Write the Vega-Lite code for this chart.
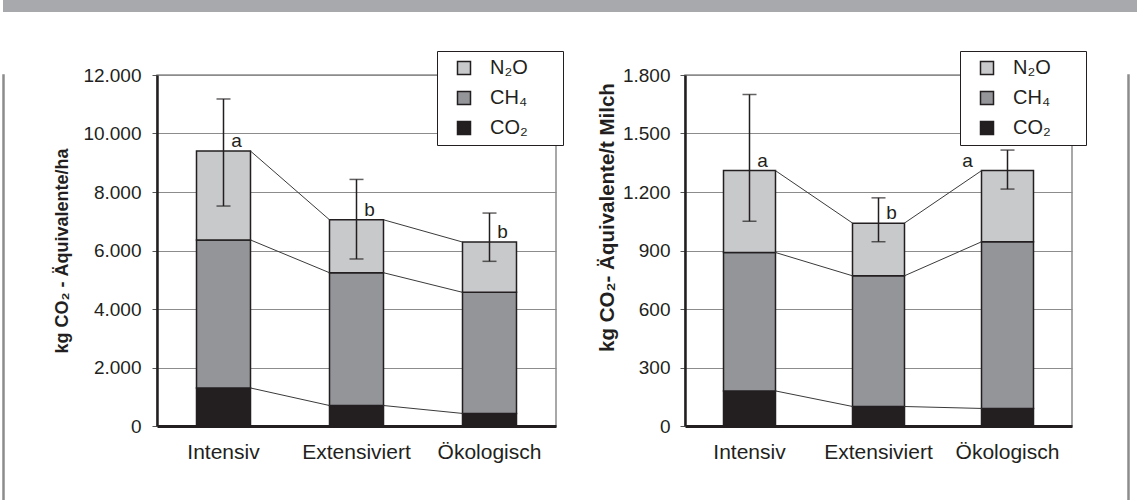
{
  "$schema": "https://vega.github.io/schema/vega-lite/v6.json",
  "padding": 0,
  "background": "white",
  "config": {
    "font": "Liberation Sans",
    "locale": {"number": {"decimal": ",", "thousands": ".", "grouping": [3], "currency": ["", " €"]}},
    "view": {"stroke": "#8c8c8c", "strokeWidth": 1.5},
    "axisY": {"grid": true, "gridColor": "#8c8c8c", "gridWidth": 1, "domainColor": "#231f20", "domainWidth": 2.5, "tickColor": "#555555", "tickSize": 5, "tickWidth": 1, "labelFontSize": 19, "labelColor": "#231f20", "labelPadding": 11, "titleFontSize": 18, "titleFontWeight": "bold", "titleColor": "#231f20", "titlePadding": 11, "format": ",d"},
    "axisX": {"domainColor": "#231f20", "domainWidth": 3, "ticks": false, "tickSize": 0, "labelFontSize": 21, "labelColor": "#231f20", "labelPadding": 15, "labelAngle": 0, "grid": false},
    "legend": {"orient": "none", "title": null, "direction": "vertical", "fillColor": "white", "strokeColor": "#231f20", "strokeWidth": 1, "padding": 7, "symbolType": "square", "symbolSize": 169, "symbolStrokeColor": "#231f20", "symbolStrokeWidth": 1.5, "symbolOffset": 10, "labelOffset": 16, "labelFontSize": 20, "labelColor": "#231f20", "rowPadding": 10}
  },
  "datasets": {
    "perHa": [
      {"system": "Intensiv", "co2": 1300, "ch4": 5060, "n2o": 3040, "low": 7520, "high": 11180, "letter": "a"},
      {"system": "Extensiviert", "co2": 700, "ch4": 4540, "n2o": 1810, "low": 5710, "high": 8430, "letter": "b"},
      {"system": "Ökologisch", "co2": 430, "ch4": 4140, "n2o": 1720, "low": 5630, "high": 7280, "letter": "b"}
    ],
    "perMilk": [
      {"system": "Intensiv", "co2": 180, "ch4": 710, "n2o": 420, "low": 1050, "high": 1700, "letter": "a"},
      {"system": "Extensiviert", "co2": 100, "ch4": 670, "n2o": 270, "low": 945, "high": 1170, "letter": "b"},
      {"system": "Ökologisch", "co2": 90, "ch4": 855, "n2o": 365, "low": 1215, "high": 1415, "letter": "a"}
    ]
  },
  "spacing": 37,
  "vconcat": [
    {
      "width": 1137,
      "height": 12,
      "view": {"fill": "#a7a9ac", "stroke": null},
      "data": {"values": [{"x": 0}]},
      "mark": {"type": "point", "opacity": 0},
      "encoding": {}
    },
    {
      "spacing": 31,
      "resolve": {"scale": {"color": "independent", "y": "independent", "x": "independent"}, "legend": {"color": "independent"}},
      "hconcat": [
        {
          "spacing": 46,
          "resolve": {"scale": {"color": "independent", "y": "independent", "x": "independent"}, "legend": {"color": "independent"}},
          "hconcat": [
            {
              "width": 1,
              "height": 425,
              "view": {"fill": "#8c8c8c", "stroke": "#8c8c8c", "strokeWidth": 1.5},
              "data": {"values": [{"x": 0}]},
              "mark": {"type": "point", "opacity": 0},
              "encoding": {}
            },
            {
              "width": 399,
              "height": 351,
              "data": {"name": "perHa"},
              "transform": [
                {"calculate": "indexof(['Intensiv','Extensiviert','Ökologisch'], datum.system)", "as": "sysOrd"},
                {"fold": ["co2", "ch4", "n2o"], "as": ["gas", "value"]},
                {"calculate": "indexof(['co2','ch4','n2o'], datum.gas)", "as": "gasOrd"},
                {"stack": "value", "groupby": ["system"], "sort": [{"field": "gasOrd", "order": "ascending"}], "as": ["v0", "v1"]}
              ],
              "encoding": {
                "x": {"field": "system", "type": "nominal", "sort": ["Intensiv", "Extensiviert", "Ökologisch"], "scale": {"paddingInner": 0, "paddingOuter": 0}, "axis": {"title": null}}
              },
              "layer": [
                {
                  "mark": {"type": "bar", "width": {"band": 0.406}, "stroke": "#231f20", "strokeWidth": 1.5},
                  "encoding": {
                    "y": {"field": "v0", "type": "quantitative", "scale": {"domain": [0, 12000]}, "axis": {"title": "kg CO₂ - Äquivalente/ha", "values": [0, 2000, 4000, 6000, 8000, 10000, 12000]}},
                    "y2": {"field": "v1"},
                    "color": {"field": "gas", "type": "nominal", "scale": {"domain": ["n2o", "ch4", "co2"], "range": ["#c8c9cb", "#939598", "#231f20"]},
                      "legend": {"legendX": 280, "legendY": -24, "labelExpr": "datum.label == 'n2o' ? 'N₂O\u00a0\u00a0\u00a0\u00a0\u00a0\u200b' : datum.label == 'ch4' ? 'CH₄\u00a0\u00a0\u00a0\u00a0\u00a0\u200b' : 'CO₂\u00a0\u00a0\u00a0\u00a0\u00a0\u200b'"}}
                  }
                },
                {
                  "transform": [
                    {"window": [{"op": "lead", "field": "v1", "as": "nextTop"}, {"op": "lead", "field": "system", "as": "nextSystem"}], "groupby": ["gas"], "sort": [{"field": "sysOrd", "order": "ascending"}]},
                    {"filter": "datum.nextSystem != null"}
                  ],
                  "mark": {"type": "rule", "stroke": "#3a3a3a", "strokeWidth": 1},
                  "encoding": {
                    "x": {"field": "system", "type": "nominal", "sort": ["Intensiv", "Extensiviert", "Ökologisch"], "bandPosition": 0.703},
                    "x2": {"field": "nextSystem", "bandPosition": 0.297},
                    "y": {"field": "v1", "type": "quantitative"},
                    "y2": {"field": "nextTop"}
                  }
                },
                {
                  "transform": [{"filter": "datum.gas == 'n2o'"}],
                  "mark": {"type": "rule", "stroke": "#231f20", "strokeWidth": 1.5},
                  "encoding": {"y": {"field": "low", "type": "quantitative"}, "y2": {"field": "high"}}
                },
                {
                  "transform": [{"filter": "datum.gas == 'n2o'"}],
                  "mark": {"type": "tick", "size": 14, "thickness": 1.5, "color": "#231f20", "orient": "horizontal"},
                  "encoding": {"y": {"field": "low", "type": "quantitative"}}
                },
                {
                  "transform": [{"filter": "datum.gas == 'n2o'"}],
                  "mark": {"type": "tick", "size": 14, "thickness": 1.5, "color": "#231f20", "orient": "horizontal"},
                  "encoding": {"y": {"field": "high", "type": "quantitative"}}
                },
                {
                  "transform": [{"filter": "datum.gas == 'n2o'"}],
                  "mark": {"type": "text", "dx": 13, "dy": -10, "fontSize": 19, "color": "#231f20"},
                  "encoding": {"y": {"field": "v1", "type": "quantitative"}, "text": {"field": "letter"}}
                }
              ]
            }
          ]
        },
        {
          "spacing": 37,
          "resolve": {"scale": {"color": "independent", "y": "independent", "x": "independent"}, "legend": {"color": "independent"}},
          "hconcat": [
            {
              "width": 387,
              "height": 351,
              "data": {"name": "perMilk"},
              "transform": [
                {"calculate": "indexof(['Intensiv','Extensiviert','Ökologisch'], datum.system)", "as": "sysOrd"},
                {"fold": ["co2", "ch4", "n2o"], "as": ["gas", "value"]},
                {"calculate": "indexof(['co2','ch4','n2o'], datum.gas)", "as": "gasOrd"},
                {"stack": "value", "groupby": ["system"], "sort": [{"field": "gasOrd", "order": "ascending"}], "as": ["v0", "v1"]}
              ],
              "encoding": {
                "x": {"field": "system", "type": "nominal", "sort": ["Intensiv", "Extensiviert", "Ökologisch"], "scale": {"paddingInner": 0, "paddingOuter": 0}, "axis": {"title": null}}
              },
              "layer": [
                {
                  "mark": {"type": "bar", "width": {"band": 0.403}, "stroke": "#231f20", "strokeWidth": 1.5},
                  "encoding": {
                    "y": {"field": "v0", "type": "quantitative", "scale": {"domain": [0, 1800]}, "axis": {"title": "kg CO₂- Äquivalente/t Milch", "values": [0, 300, 600, 900, 1200, 1500, 1800], "labelPadding": 10, "titlePadding": 5, "titleFontSize": 20.5, "titleY": 142}},
                    "y2": {"field": "v1"},
                    "color": {"field": "gas", "type": "nominal", "scale": {"domain": ["n2o", "ch4", "co2"], "range": ["#c8c9cb", "#939598", "#231f20"]},
                      "legend": {"legendX": 275, "legendY": -24, "labelExpr": "datum.label == 'n2o' ? 'N₂O\u00a0\u00a0\u00a0\u00a0\u00a0\u200b' : datum.label == 'ch4' ? 'CH₄\u00a0\u00a0\u00a0\u00a0\u00a0\u200b' : 'CO₂\u00a0\u00a0\u00a0\u00a0\u00a0\u200b'"}}
                  }
                },
                {
                  "transform": [
                    {"window": [{"op": "lead", "field": "v1", "as": "nextTop"}, {"op": "lead", "field": "system", "as": "nextSystem"}], "groupby": ["gas"], "sort": [{"field": "sysOrd", "order": "ascending"}]},
                    {"filter": "datum.nextSystem != null"}
                  ],
                  "mark": {"type": "rule", "stroke": "#3a3a3a", "strokeWidth": 1},
                  "encoding": {
                    "x": {"field": "system", "type": "nominal", "sort": ["Intensiv", "Extensiviert", "Ökologisch"], "bandPosition": 0.7},
                    "x2": {"field": "nextSystem", "bandPosition": 0.3},
                    "y": {"field": "v1", "type": "quantitative"},
                    "y2": {"field": "nextTop"}
                  }
                },
                {
                  "transform": [{"filter": "datum.gas == 'n2o'"}],
                  "mark": {"type": "rule", "stroke": "#231f20", "strokeWidth": 1.5},
                  "encoding": {"y": {"field": "low", "type": "quantitative"}, "y2": {"field": "high"}}
                },
                {
                  "transform": [{"filter": "datum.gas == 'n2o'"}],
                  "mark": {"type": "tick", "size": 14, "thickness": 1.5, "color": "#231f20", "orient": "horizontal"},
                  "encoding": {"y": {"field": "low", "type": "quantitative"}}
                },
                {
                  "transform": [{"filter": "datum.gas == 'n2o'"}],
                  "mark": {"type": "tick", "size": 14, "thickness": 1.5, "color": "#231f20", "orient": "horizontal"},
                  "encoding": {"y": {"field": "high", "type": "quantitative"}}
                },
                {
                  "transform": [{"filter": "datum.gas == 'n2o' && datum.system != 'Ökologisch'"}],
                  "mark": {"type": "text", "dx": 13, "dy": -10, "fontSize": 19, "color": "#231f20"},
                  "encoding": {"y": {"field": "v1", "type": "quantitative"}, "text": {"field": "letter"}}
                },
                {
                  "transform": [{"filter": "datum.gas == 'n2o' && datum.system == 'Ökologisch'"}],
                  "mark": {"type": "text", "dx": -40, "dy": -10, "fontSize": 19, "color": "#231f20"},
                  "encoding": {"y": {"field": "v1", "type": "quantitative"}, "text": {"field": "letter"}}
                }
              ]
            },
            {
              "width": 1,
              "height": 425,
              "view": {"fill": "#8c8c8c", "stroke": "#8c8c8c", "strokeWidth": 1.5},
              "data": {"values": [{"x": 0}]},
              "mark": {"type": "point", "opacity": 0},
              "encoding": {}
            }
          ]
        }
      ]
    }
  ]
}
